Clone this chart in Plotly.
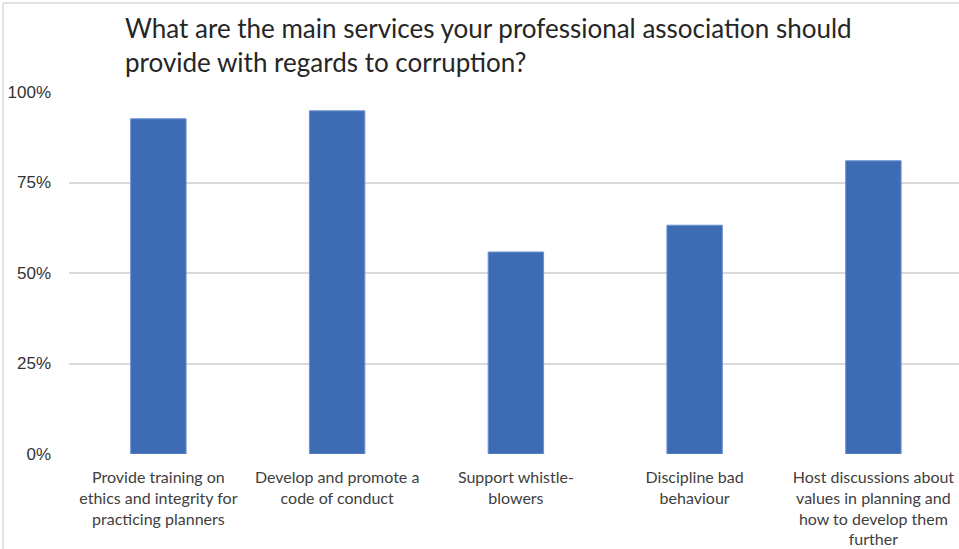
import plotly.graph_objects as go

categories = [
    "Provide training on<br>ethics and integrity for<br>practicing planners",
    "Develop and promote a<br>code of conduct",
    "Support whistle-<br>blowers",
    "Discipline bad<br>behaviour",
    "Host discussions about<br>values in planning and<br>how to develop them<br>further",
]
values = [92.6, 94.8, 55.8, 63.2, 81.0]
tick_vals = [0, 25, 50, 75, 100]
tick_text = ["0%", "25%", "50%", "75%", "100%"]
title_text = "What are the main services your professional association should<br>provide with regards to corruption?"

W, H = 959, 549
ml, mr, mt, mb = 69, 0, 92, 95

fig = go.Figure()
fig.add_trace(go.Bar(
    x=list(range(len(categories))),
    y=values,
    width=0.31,
    marker=dict(color="#3D6CB5", line=dict(color="#6A93CF", width=1)),
    hoverinfo="y",
))

px2paper_x = lambda p: (p - ml) / (W - ml - mr)
px2paper_y = lambda p: (H - mb - p) / (H - mt - mb)

fig.update_layout(
    width=W, height=H,
    margin=dict(l=ml, r=mr, t=mt, b=mb, pad=0),
    paper_bgcolor="white", plot_bgcolor="white",
    showlegend=False,
    bargap=0.69,
    title=dict(
        text=title_text,
        x=px2paper_x(125), xref="paper", xanchor="left",
        y=1 - 38 / H, yref="container", yanchor="top",
        font=dict(family="Lato, Liberation Sans, sans-serif", size=26, color="#262626"),
    ),
    xaxis=dict(
        range=[-0.5, -0.5 + (W - ml - mr) / 178.75],
        tickmode="array",
        tickvals=list(range(len(categories))),
        ticktext=categories,
        tickangle=0,
        showgrid=False,
        zeroline=False,
        showline=False,
        ticks="",
        ticklabelstandoff=12,
        tickfont=dict(family="Lato, Liberation Sans, sans-serif", size=16, color="#404040"),
    ),
    yaxis=dict(
        range=[0, 100],
        tickmode="array",
        tickvals=tick_vals,
        ticktext=tick_text,
        showgrid=True,
        gridcolor="#D9D9D9",
        gridwidth=1.5,
        zeroline=False,
        showline=False,
        ticks="",
        ticklabelstandoff=17,
        tickfont=dict(family="Liberation Sans, Arial, sans-serif", size=17, color="#333333"),
    ),
    shapes=[
        dict(type="line", xref="paper", yref="paper",
             x0=px2paper_x(3), x1=px2paper_x(W + 5), y0=px2paper_y(3), y1=px2paper_y(3),
             line=dict(color="#D9D9D9", width=1.5)),
        dict(type="line", xref="paper", yref="paper",
             x0=px2paper_x(3), x1=px2paper_x(3), y0=px2paper_y(3), y1=px2paper_y(H + 5),
             line=dict(color="#D9D9D9", width=1.5)),
    ],
)

fig.write_html("out.html", config={"displayModeBar": False},
               post_script="document.body.style.margin='0';")
